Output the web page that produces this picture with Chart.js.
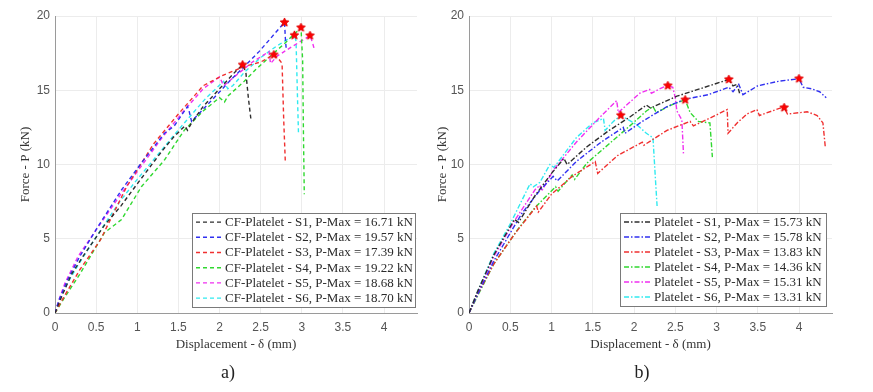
<!DOCTYPE html>
<html>
<head>
<meta charset="utf-8">
<script src="https://cdn.jsdelivr.net/npm/chart.js@4.4.0/dist/chart.umd.min.js"></script>
<style>
  body { margin: 0; background: #fff; width: 873px; height: 392px; overflow: hidden; position: relative; }
  .panel { position: absolute; top: 0; height: 392px; }
  #wrapA { left: 0; width: 430px; }
  #wrapB { left: 430px; width: 443px; }
  .cap { position: absolute; top: 361px; font: 18px "Liberation Serif", serif; color: #222; transform: translateX(-50%); line-height: 22px; }
</style>
</head>
<body>
<div class="panel" id="wrapA"><canvas id="chartA"></canvas></div>
<div class="panel" id="wrapB"><canvas id="chartB"></canvas></div>
<div class="cap" style="left:228px">a)</div>
<div class="cap" style="left:642px">b)</div>
<script>
// --- Data: a) CF-Platelet ---
const cfLabels = [
  'CF-Platelet - S1, P-Max = 16.71 kN',
  'CF-Platelet - S2, P-Max = 19.57 kN',
  'CF-Platelet - S3, P-Max = 17.39 kN',
  'CF-Platelet - S4, P-Max = 19.22 kN',
  'CF-Platelet - S5, P-Max = 18.68 kN',
  'CF-Platelet - S6, P-Max = 18.70 kN',
];
const cfS1X = [0, 0.08, 0.2, 0.35, 0.6, 0.8, 1.0, 1.15, 1.3, 1.45, 1.58, 1.61, 1.66, 1.8, 1.95, 2.1, 2.2, 2.28, 2.32, 2.35, 2.38];
const cfS1Y = [0, 1.1, 2.6, 3.9, 5.9, 7.2, 8.7, 9.8, 10.9, 11.9, 12.6, 12.3, 12.8, 13.9, 14.8, 15.7, 16.3, 16.71, 16.2, 14.5, 13.1];
const cfS2X = [0, 0.05, 0.15, 0.3, 0.52, 0.81, 1.05, 1.33, 1.45, 1.61, 1.63, 1.66, 1.9, 2.12, 2.48, 2.79, 2.8, 2.81];
const cfS2Y = [0, 0.9, 2.2, 3.8, 5.8, 8.3, 10.1, 12.1, 12.6, 13.9, 13.6, 12.9, 14.3, 15.6, 17.6, 19.57, 18.5, 17.8];
const cfS3X = [0, 0.1, 0.3, 0.55, 0.87, 1.2, 1.5, 1.8, 2.04, 2.3, 2.5, 2.66, 2.72, 2.76, 2.78, 2.8];
const cfS3Y = [0, 1.0, 2.9, 4.9, 8.5, 11.4, 13.4, 15.3, 16.0, 16.6, 16.9, 17.39, 17.1, 16.8, 13.0, 10.1];
const cfS4X = [0, 0.1, 0.3, 0.6, 0.81, 1.05, 1.33, 1.57, 1.8, 2.0, 2.06, 2.1, 2.3, 2.44, 2.6, 2.8, 2.99, 3.01, 3.02, 3.03];
const cfS4Y = [0, 0.9, 2.6, 5.4, 6.3, 8.5, 10.3, 12.3, 13.6, 14.5, 14.2, 14.6, 15.6, 16.4, 17.2, 18.2, 19.22, 17.0, 12.0, 8.0];
const cfS5X = [0, 0.05, 0.12, 0.28, 0.5, 0.8, 1.05, 1.3, 1.55, 1.8, 2.0, 2.05, 2.2, 2.4, 2.6, 2.62, 2.7, 2.9, 3.1, 3.13, 3.15];
const cfS5Y = [0, 0.9, 2.0, 3.8, 5.6, 8.0, 9.9, 11.8, 13.5, 15.1, 15.9, 15.3, 16.0, 16.9, 17.6, 16.8, 17.3, 18.0, 18.68, 18.2, 17.8];
const cfS6X = [0, 0.05, 0.15, 0.3, 0.52, 0.8, 1.0, 1.21, 1.45, 1.65, 1.84, 2.05, 2.1, 2.16, 2.3, 2.5, 2.7, 2.91, 2.93, 2.95, 2.96];
const cfS6Y = [0, 0.8, 2.0, 3.4, 5.3, 7.6, 9.0, 10.4, 12.0, 13.3, 14.5, 15.6, 15.1, 15.3, 16.2, 17.2, 18.0, 18.7, 18.3, 14.0, 12.0];
const cfPeakX = [2.28, 2.79, 2.66, 2.99, 3.10, 2.91];
const cfPeakY = [16.71, 19.57, 17.39, 19.22, 18.68, 18.70];

// --- Data: b) Platelet ---
const plLabels = [
  'Platelet - S1, P-Max = 15.73 kN',
  'Platelet - S2, P-Max = 15.78 kN',
  'Platelet - S3, P-Max = 13.83 kN',
  'Platelet - S4, P-Max = 14.36 kN',
  'Platelet - S5, P-Max = 15.31 kN',
  'Platelet - S6, P-Max = 13.31 kN',
];
const plS1X = [0, 0.1, 0.3, 0.55, 0.6, 0.8, 1.0, 1.15, 1.19, 1.43, 1.7, 1.95, 2.15, 2.2, 2.52, 2.8, 3.15, 3.2, 3.25, 3.28];
const plS1Y = [0, 1.4, 3.9, 6.3, 6.1, 7.9, 9.4, 10.4, 10.0, 11.2, 12.3, 13.2, 14.0, 13.8, 14.6, 15.1, 15.73, 15.3, 15.4, 14.8];
const plS2X = [0, 0.1, 0.3, 0.64, 0.85, 1.02, 1.07, 1.3, 1.6, 1.87, 1.89, 2.1, 2.4, 2.62, 2.9, 3.15, 3.2, 3.27, 3.32, 3.5, 3.75, 4.0, 4.05, 4.15, 4.25, 4.33];
const plS2Y = [0, 1.2, 3.5, 6.7, 8.2, 9.2, 8.9, 10.2, 11.5, 12.5, 12.1, 12.9, 13.9, 14.4, 14.7, 15.2, 14.9, 15.4, 14.7, 15.3, 15.6, 15.78, 15.2, 15.1, 14.9, 14.5];
const plS3X = [0, 0.1, 0.3, 0.55, 0.82, 0.84, 1.0, 1.25, 1.53, 1.56, 1.8, 2.1, 2.12, 2.4, 2.68, 2.72, 2.95, 3.13, 3.14, 3.25, 3.37, 3.49, 3.52, 3.77, 3.82, 3.86, 4.1, 4.22, 4.29, 4.32];
const plS3Y = [0, 1.2, 3.3, 5.3, 7.2, 6.8, 8.0, 9.2, 10.2, 9.4, 10.6, 11.5, 11.3, 12.3, 12.9, 12.6, 13.2, 13.7, 12.1, 12.8, 13.4, 13.7, 13.3, 13.8, 13.83, 13.4, 13.55, 13.3, 12.8, 11.1];
const plS4X = [0, 0.1, 0.3, 0.6, 0.8, 1.05, 1.08, 1.25, 1.28, 1.43, 1.7, 1.95, 2.15, 2.23, 2.27, 2.45, 2.62, 2.68, 2.78, 2.92, 2.95];
const plS4Y = [0, 1.1, 3.3, 5.7, 7.1, 8.5, 8.2, 9.3, 9.0, 10.1, 11.4, 12.6, 13.6, 13.9, 13.5, 14.0, 14.36, 13.5, 12.9, 12.8, 10.5];
const plS5X = [0, 0.1, 0.3, 0.55, 0.8, 0.86, 0.88, 1.02, 1.3, 1.59, 1.79, 1.81, 2.07, 2.19, 2.21, 2.35, 2.41, 2.47, 2.5, 2.52, 2.58, 2.6];
const plS5Y = [0, 1.3, 3.8, 6.2, 8.3, 8.6, 8.2, 9.6, 11.5, 13.2, 14.3, 13.5, 14.8, 15.05, 14.8, 15.2, 15.31, 15.2, 14.5, 13.6, 13.0, 10.7];
const plS6X = [0, 0.1, 0.3, 0.5, 0.74, 0.78, 0.86, 0.98, 1.03, 1.3, 1.5, 1.63, 1.65, 1.75, 1.84, 2.03, 2.15, 2.23, 2.26, 2.28];
const plS6Y = [0, 1.4, 4.0, 6.0, 8.7, 8.5, 8.8, 10.0, 9.8, 11.8, 12.8, 13.1, 12.3, 12.9, 13.31, 12.7, 12.1, 11.8, 9.0, 7.2];
const plPeakX = [3.15, 4.0, 3.82, 2.62, 2.41, 1.84];
const plPeakY = [15.73, 15.78, 13.83, 14.36, 15.31, 13.31];

const xTicks = [0, 0.5, 1, 1.5, 2, 2.5, 3, 3.5, 4];
const yTicks = [0, 5, 10, 15, 20];

const COLORS = ['#2e2e2e', '#3030f0', '#f03030', '#30d830', '#f030f0', '#30eaf0'];

// --- Helpers ---
function zip(xs, ys) {
  return xs.map((x, i) => ({ x, y: ys[i] }));
}

function starImg(r) {
  const c = document.createElement('canvas');
  const s = Math.ceil(r * 2 + 2);
  c.width = s; c.height = s;
  const g = c.getContext('2d');
  g.fillStyle = '#ff0000';
  g.strokeStyle = '#e00000';
  g.beginPath();
  for (let i = 0; i < 10; i++) {
    const a = -Math.PI / 2 + i * Math.PI / 5;
    const rr = i % 2 ? r * 0.45 : r;
    g.lineTo(s / 2 + rr * Math.cos(a), s / 2 + rr * Math.sin(a));
  }
  g.closePath();
  g.fill();
  g.stroke();
  return c;
}

// legend box drawn inside the plot, bottom right
const boxLegend = {
  id: 'boxLegend',
  afterDatasetsDraw(chart, args, opts) {
    const { ctx, chartArea } = chart;
    const sets = chart.data.datasets.filter((d) => d.inLegend);
    ctx.save();
    ctx.font = opts.font;
    const tw = Math.max(...sets.map((d) => ctx.measureText(d.label).width));
    const w = Math.round(opts.padL + opts.sample + opts.gap + tw + opts.padR);
    const h = Math.round(sets.length * opts.rowH + opts.padV * 2);
    const x0 = Math.round(chartArea.right - opts.right - w);
    const y0 = Math.round(chartArea.bottom - opts.bottom - h);
    ctx.fillStyle = '#fff';
    ctx.fillRect(x0, y0, w, h);
    ctx.strokeStyle = '#7a7a7a';
    ctx.lineWidth = 1;
    ctx.strokeRect(x0 + 0.5, y0 + 0.5, w, h);
    sets.forEach((d, i) => {
      const cy = y0 + opts.padV + opts.rowH * (i + 0.5);
      ctx.strokeStyle = d.borderColor;
      ctx.lineWidth = d.borderWidth;
      ctx.setLineDash(d.borderDash);
      ctx.beginPath();
      ctx.moveTo(x0 + opts.padL, cy);
      ctx.lineTo(x0 + opts.padL + opts.sample, cy);
      ctx.stroke();
      ctx.setLineDash([]);
      ctx.fillStyle = '#2b2b2b';
      ctx.textBaseline = 'middle';
      ctx.fillText(d.label, x0 + opts.padL + opts.sample + opts.gap, cy + 0.5);
    });
    ctx.restore();
  },
};

function makeChart(canvasId, labels, seriesX, seriesY, peakX, peakY, dash, yWidth, titlePad, legendOpts, padRight) {
  const datasets = labels.map((label, i) => ({
    label,
    data: zip(seriesX[i], seriesY[i]),
    showLine: true,
    borderColor: COLORS[i],
    backgroundColor: COLORS[i],
    borderWidth: 1.4,
    borderDash: dash,
    pointRadius: 0,
    inLegend: true,
  }));
  datasets.push({
    label: 'peaks',
    data: zip(peakX, peakY),
    showLine: false,
    pointStyle: starImg(4.5),
    order: -1,
  });

  return new Chart(document.getElementById(canvasId), {
    type: 'scatter',
    data: { datasets },
    plugins: [boxLegend],
    options: {
      responsive: true,
      maintainAspectRatio: false,
      animation: false,
      layout: { padding: { top: 16, right: padRight, bottom: 0, left: 0 } },
      plugins: {
        legend: { display: false },
        tooltip: { enabled: false },
        boxLegend: legendOpts,
      },
      scales: {
        x: {
          type: 'linear',
          min: 0,
          max: 4.4,
          afterBuildTicks: (s) => { s.ticks = xTicks.map((v) => ({ value: v })); },
          ticks: {
            padding: 7,
            color: '#555',
            font: { family: 'Liberation Sans', size: 12 },
            callback: (v) => String(+v),
          },
          grid: { color: '#ececec', drawTicks: false },
          border: { color: '#9a9a9a' },
          title: {
            display: true,
            text: 'Displacement - δ (mm)',
            color: '#333',
            font: { family: 'Liberation Serif', size: 13 },
            padding: { top: 0, bottom: 40 },
          },
          afterFit: (s) => { s.height = 79; },
        },
        y: {
          min: 0,
          max: 20,
          afterBuildTicks: (s) => { s.ticks = yTicks.map((v) => ({ value: v })); },
          ticks: {
            padding: 5,
            color: '#555',
            font: { family: 'Liberation Sans', size: 12 },
            callback: (v) => String(+v),
          },
          grid: { color: '#ececec', drawTicks: false },
          border: { color: '#9a9a9a' },
          title: {
            display: true,
            text: 'Force - P (kN)',
            color: '#333',
            font: { family: 'Liberation Serif', size: 13 },
            padding: { top: titlePad, bottom: 0 },
          },
          afterFit: (s) => { s.width = yWidth; },
        },
      },
    },
  });
}

makeChart('chartA', cfLabels,
  [cfS1X, cfS2X, cfS3X, cfS4X, cfS5X, cfS6X],
  [cfS1Y, cfS2Y, cfS3Y, cfS4Y, cfS5Y, cfS6Y],
  cfPeakX, cfPeakY, [4, 3], 55, 18,
  { font: '13px "Liberation Serif"', rowH: 15.2, padV: 1.5, padL: 4, sample: 25, gap: 4, padR: 2, right: 2, bottom: 6 },
  13);

makeChart('chartB', plLabels,
  [plS1X, plS2X, plS3X, plS4X, plS5X, plS6X],
  [plS1Y, plS2Y, plS3Y, plS4Y, plS5Y, plS6Y],
  plPeakX, plPeakY, [5, 2, 1.5, 2], 39, 5,
  { font: '13px "Liberation Serif"', rowH: 15, padV: 1.5, padL: 4, sample: 28, gap: 2, padR: 4, right: 6, bottom: 7 },
  41);
</script>
</body>
</html>
